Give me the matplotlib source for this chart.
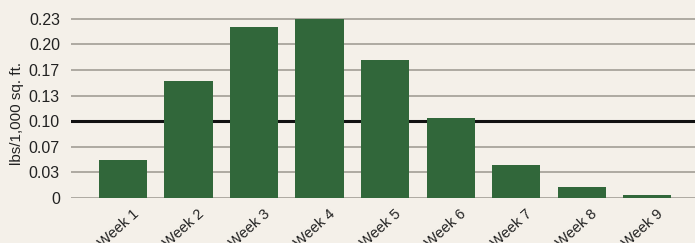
import numpy as np
import matplotlib
matplotlib.use('Agg')
import matplotlib.pyplot as plt
import matplotlib.transforms as mtransforms

# 주차별 값 (lbs/1,000 sq. ft.)
weeks = ['Week 1', 'Week 2', 'Week 3', 'Week 4', 'Week 5', 'Week 6', 'Week 7', 'Week 8', 'Week 9']
values = [0.050, 0.152, 0.222, 0.233, 0.180, 0.104, 0.043, 0.014, 0.004]

# y축 눈금 (1/30 간격)
y_ticks = [0, 1/30, 2/30, 3/30, 4/30, 5/30, 6/30, 7/30]
y_tick_labels = ['0', '0.03', '0.07', '0.10', '0.13', '0.17', '0.20', '0.23']
threshold = 0.10

bg = '#f4f0e9'
bar_color = '#31673a'
grid_color = '#a8a49c'

plt.rcParams['font.family'] = ['Liberation Sans', 'DejaVu Sans']

fig = plt.figure(figsize=(6.95, 2.43), dpi=100, facecolor=bg)
ax = fig.add_axes([71 / 695, 45 / 243, 624 / 695, 190 / 243])
ax.set_facecolor(bg)

x = np.arange(len(weeks))
ax.bar(x, values, width=0.735, color=bar_color, zorder=3)

for t in y_ticks:
    if abs(t - threshold) < 1e-9:
        ax.axhline(t, color='#111111', linewidth=2.2, zorder=2)
    else:
        ax.axhline(t, color=grid_color, linewidth=1.3, zorder=1)

ax.set_xlim(-0.794, 8.73)
ax.set_ylim(0, 190 / 768.4)

ax.set_yticks(y_ticks)
ax.set_yticklabels(y_tick_labels, fontsize=11.5, color='#222222')
ax.tick_params(axis='y', length=0, pad=8)

ax.set_xticks(x)
ax.set_xticklabels(weeks, fontsize=10.5, color='#222222', rotation=42, ha='right',
                   va='top', rotation_mode='anchor')
ax.tick_params(axis='x', length=0, pad=6)
offset = mtransforms.ScaledTranslation(9 / 100, 0, fig.dpi_scale_trans)
for lbl in ax.get_xticklabels():
    lbl.set_transform(lbl.get_transform() + offset)

ax.set_ylabel('lbs/1,000 sq. ft.', fontsize=11, color='#222222')
ax.yaxis.set_label_coords((24 - 71) / 624, (198 - 113) / 190)

for s in ax.spines.values():
    s.set_visible(False)

fig.savefig('out.png', dpi=100, facecolor=bg)
